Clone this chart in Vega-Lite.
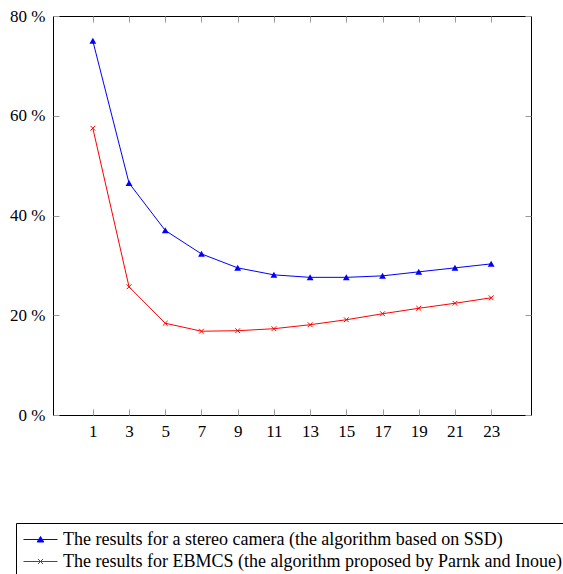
{
  "$schema": "https://vega.github.io/schema/vega-lite/v6.json",
  "autosize": {"type": "none"},
  "padding": {"left": 53, "top": 16, "right": 32, "bottom": 159},
  "width": 478,
  "height": 399,
  "config": {
    "view": {"stroke": "#000000", "strokeWidth": 1},
    "font": "Liberation Serif",
    "axis": {"grid": false, "domain": false, "tickColor": "#999999", "tickSize": -6, "tickWidth": 1, "labelFont": "Liberation Serif", "labelFontSize": 17, "labelColor": "#000000", "title": null}
  },
  "data": {"values": [
    {"x": 1, "series": "The results for a stereo camera (the algorithm based on SSD)", "v": 75.0},
    {"x": 3, "series": "The results for a stereo camera (the algorithm based on SSD)", "v": 46.5},
    {"x": 5, "series": "The results for a stereo camera (the algorithm based on SSD)", "v": 37.0},
    {"x": 7, "series": "The results for a stereo camera (the algorithm based on SSD)", "v": 32.3},
    {"x": 9, "series": "The results for a stereo camera (the algorithm based on SSD)", "v": 29.5},
    {"x": 11, "series": "The results for a stereo camera (the algorithm based on SSD)", "v": 28.1},
    {"x": 13, "series": "The results for a stereo camera (the algorithm based on SSD)", "v": 27.6},
    {"x": 15, "series": "The results for a stereo camera (the algorithm based on SSD)", "v": 27.6},
    {"x": 17, "series": "The results for a stereo camera (the algorithm based on SSD)", "v": 27.9},
    {"x": 19, "series": "The results for a stereo camera (the algorithm based on SSD)", "v": 28.7},
    {"x": 21, "series": "The results for a stereo camera (the algorithm based on SSD)", "v": 29.5},
    {"x": 23, "series": "The results for a stereo camera (the algorithm based on SSD)", "v": 30.3},
    {"x": 1, "series": "The results for EBMCS (the algorithm proposed by Parnk and Inoue)", "v": 57.5},
    {"x": 3, "series": "The results for EBMCS (the algorithm proposed by Parnk and Inoue)", "v": 25.7},
    {"x": 5, "series": "The results for EBMCS (the algorithm proposed by Parnk and Inoue)", "v": 18.4},
    {"x": 7, "series": "The results for EBMCS (the algorithm proposed by Parnk and Inoue)", "v": 16.8},
    {"x": 9, "series": "The results for EBMCS (the algorithm proposed by Parnk and Inoue)", "v": 16.9},
    {"x": 11, "series": "The results for EBMCS (the algorithm proposed by Parnk and Inoue)", "v": 17.3},
    {"x": 13, "series": "The results for EBMCS (the algorithm proposed by Parnk and Inoue)", "v": 18.1},
    {"x": 15, "series": "The results for EBMCS (the algorithm proposed by Parnk and Inoue)", "v": 19.1},
    {"x": 17, "series": "The results for EBMCS (the algorithm proposed by Parnk and Inoue)", "v": 20.3},
    {"x": 19, "series": "The results for EBMCS (the algorithm proposed by Parnk and Inoue)", "v": 21.4},
    {"x": 21, "series": "The results for EBMCS (the algorithm proposed by Parnk and Inoue)", "v": 22.4},
    {"x": 23, "series": "The results for EBMCS (the algorithm proposed by Parnk and Inoue)", "v": 23.5}
  ]},
  "resolve": {"axis": {"x": "independent", "y": "independent"}},
  "layer": [
    {
      "mark": {"type": "line", "strokeWidth": 1},
      "encoding": {
        "x": {"field": "x", "type": "quantitative", "scale": {"domain": [-1.2, 25.2], "nice": false, "zero": false},
              "axis": {"orient": "bottom", "values": [1,3,5,7,9,11,13,15,17,19,21,23], "labelPadding": 14}},
        "y": {"field": "v", "type": "quantitative", "scale": {"domain": [0, 80], "nice": false},
              "axis": {"orient": "left", "values": [0,20,40,60,80], "labelExpr": "datum.value + ' %'", "labelPadding": 14}},
        "stroke": {"field": "series", "type": "nominal",
                   "scale": {"domain": ["The results for a stereo camera (the algorithm based on SSD)", "The results for EBMCS (the algorithm proposed by Parnk and Inoue)"], "range": ["#0000ff", "#ff0000"]},
                   "legend": {"orient": "none", "legendX": -37, "legendY": 507, "title": null,
                              "strokeColor": "#000000", "fillColor": "#ffffff", "padding": 6, "rowPadding": 2,
                              "labelFont": "Liberation Serif", "labelFontSize": 18, "labelColor": "#000000", "labelLimit": 0,
                              "symbolSize": 400, "symbolOffset": 8, "labelOffset": 12, "symbolStrokeWidth": 1,
                              "encode": {"symbols": {"update": {
                                "shape": {"signal": "datum.index == 0 ? 'M-1.7,0H1.7M-0.33,0.25L0,-0.3L0.33,0.25Z' : 'M-1.7,0H1.7M-0.25,-0.25L0.25,0.25M-0.25,0.25L0.25,-0.25'"},
                                "fill": {"signal": "datum.index == 0 ? '#0000ff' : 'transparent'"},
                                "stroke": {"signal": "datum.index == 0 ? '#0000ff' : '#ff0000'"},
                                "strokeWidth": {"value": 1},
                                "opacity": {"value": 1}, "fillOpacity": {"value": 1}, "strokeOpacity": {"value": 1}}}}}}
      }
    },
    {
      "transform": [{"filter": "datum.series == 'The results for a stereo camera (the algorithm based on SSD)'"}],
      "mark": {"type": "point", "filled": true, "size": 64, "opacity": 1, "color": "#0000ff", "shape": "M-0.85,0.7L0,-0.8L0.85,0.7Z"},
      "encoding": {
        "x": {"field": "x", "type": "quantitative", "axis": {"orient": "top", "values": [1,3,5,7,9,11,13,15,17,19,21,23], "labels": false}},
        "y": {"field": "v", "type": "quantitative", "axis": {"orient": "right", "values": [0,20,40,60,80], "labels": false}}
      }
    },
    {
      "transform": [{"filter": "datum.series == 'The results for EBMCS (the algorithm proposed by Parnk and Inoue)'"}],
      "mark": {"type": "point", "filled": false, "size": 64, "opacity": 1, "strokeWidth": 1, "color": "#ff0000", "shape": "M-0.6,-0.6L0.6,0.6M-0.6,0.6L0.6,-0.6"},
      "encoding": {
        "x": {"field": "x", "type": "quantitative", "axis": null},
        "y": {"field": "v", "type": "quantitative", "axis": null}
      }
    }
  ]
}
